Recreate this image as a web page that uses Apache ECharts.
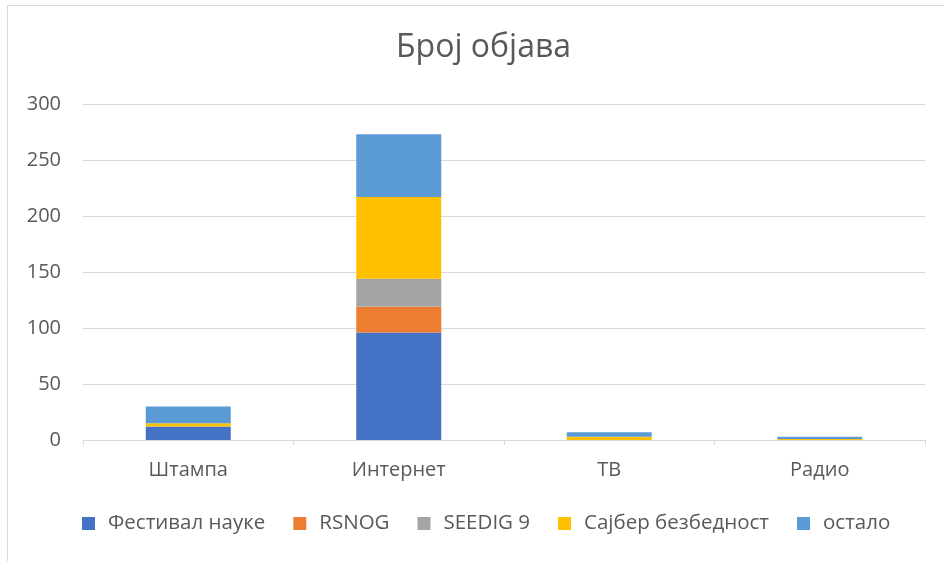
<!DOCTYPE html>
<html>
<head>
<meta charset="utf-8">
<script src="https://cdn.jsdelivr.net/npm/echarts@6/dist/echarts.min.js"></script>
<style>
  html, body { margin: 0; padding: 0; background: #fff; }
  #chart { width: 944px; height: 561px; }
</style>
</head>
<body>
<div id="chart"></div>
<script>
const categories = ['Штампа', 'Интернет', 'ТВ', 'Радио'];
const festival = [12, 96, 0, 0];
const rsnog = [0, 23, 0, 0];
const seedig = [0, 25, 0, 0];
const sajber = [3, 73, 3, 1];
const ostalo = [15, 56, 4, 2];
const yTicks = [0, 50, 100, 150, 200, 250, 300];

const textColor = '#595959';
const font = '"Open Sans", "Noto Sans", sans-serif';

let chart = echarts.init(document.querySelector('#chart'));

function serie(name, data, color) {
  return {
    name: name,
    type: 'bar',
    stack: 'total',
    data: data,
    barWidth: 85,
    itemStyle: { color: color },
    emphasis: { disabled: true }
  };
}

chart.setOption({
  animation: false,
  textStyle: { fontFamily: font },
  graphic: [{
    type: 'rect',
    shape: { x: 7.5, y: 5.5, width: 960, height: 600 },
    style: { fill: 'none', stroke: '#d9d9d9', lineWidth: 1 },
    silent: true
  }],
  title: {
    text: 'Број објава',
    left: 391,
    top: 27,
    textStyle: { fontFamily: font, fontSize: 32, fontWeight: 'normal', color: textColor }
  },
  grid: { left: 83, right: 19, top: 104, bottom: 121, containLabel: false },
  legend: {
    bottom: 22,
    left: 77,
    icon: 'rect',
    itemWidth: 13,
    itemHeight: 13,
    itemGap: 28,
    textStyle: { fontFamily: font, fontSize: 20.5, color: textColor, padding: [0, 0, 0, 8] },
    data: ['Фестивал науке', 'RSNOG', 'SEEDIG 9', 'Сајбер безбедност', 'остало']
  },
  xAxis: {
    type: 'category',
    data: categories,
    axisLine: { lineStyle: { color: '#d9d9d9', width: 1 } },
    axisTick: { show: true, length: 5, lineStyle: { color: '#d9d9d9' } },
    axisLabel: { color: textColor, fontSize: 20, margin: 20, fontFamily: font }
  },
  yAxis: {
    type: 'value',
    min: yTicks[0],
    max: yTicks[yTicks.length - 1],
    interval: 50,
    axisLine: { show: false },
    axisTick: { show: false },
    splitLine: { lineStyle: { color: '#d9d9d9', width: 1 } },
    axisLabel: { color: textColor, fontSize: 20, margin: 22, fontFamily: font }
  },
  series: [
    serie('Фестивал науке', festival, '#4472c4'),
    serie('RSNOG', rsnog, '#ed7d31'),
    serie('SEEDIG 9', seedig, '#a5a5a5'),
    serie('Сајбер безбедност', sajber, '#ffc000'),
    serie('остало', ostalo, '#5b9bd5')
  ]
});
</script>
</body>
</html>
